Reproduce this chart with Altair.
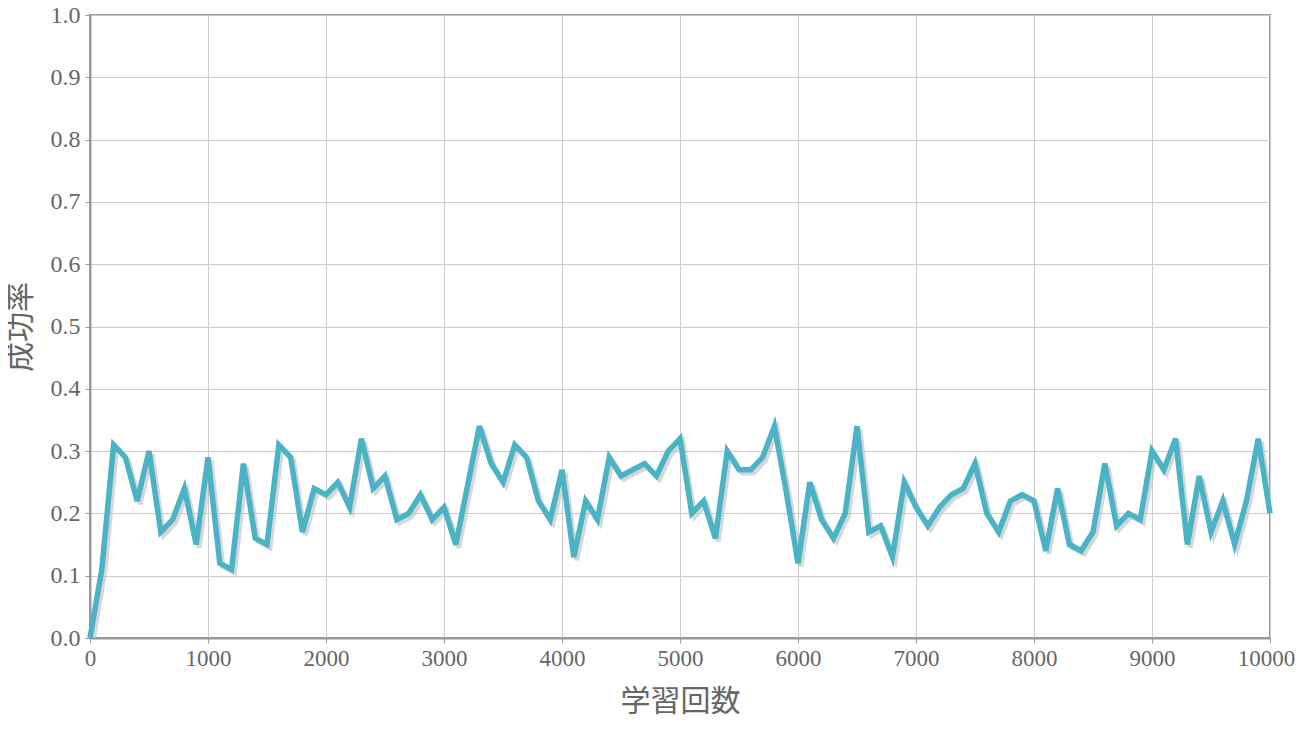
import altair as alt
import pandas as pd

steps = list(range(0, 10001, 100))
rates = [
    0.00, 0.11, 0.31, 0.29, 0.22, 0.30, 0.17, 0.19, 0.24, 0.15,
    0.29, 0.12, 0.11, 0.28, 0.16, 0.15, 0.31, 0.29, 0.17, 0.24,
    0.23, 0.25, 0.21, 0.32, 0.24, 0.26, 0.19, 0.20, 0.23, 0.19,
    0.21, 0.15, 0.245, 0.34, 0.28, 0.25, 0.31, 0.29, 0.22, 0.19,
    0.27, 0.13, 0.22, 0.19, 0.29, 0.26, 0.27, 0.28, 0.26, 0.30,
    0.32, 0.20, 0.22, 0.16, 0.30, 0.27, 0.27, 0.29, 0.34, 0.235,
    0.12, 0.25, 0.19, 0.16, 0.20, 0.34, 0.17, 0.18, 0.13, 0.25,
    0.21, 0.18, 0.21, 0.23, 0.24, 0.28, 0.20, 0.17, 0.22, 0.23,
    0.22, 0.14, 0.24, 0.15, 0.14, 0.17, 0.28, 0.18, 0.20, 0.19,
    0.30, 0.27, 0.32, 0.15, 0.26, 0.17, 0.22, 0.15, 0.22, 0.32,
    0.20,
]

df = pd.DataFrame({"step": steps, "rate": rates})

x_enc = alt.X("step:Q", scale=alt.Scale(domain=[0, 10000], nice=False),
              axis=alt.Axis(title="学習回数", values=list(range(0, 10001, 1000)),
                            format="d", labelPadding=4, titlePadding=16,
                            labelFontSize=23, labelFlush=False,
                            labelOffset={"condition": {"test": "datum.value == 10000", "value": -4},
                                         "value": 0}))
y_enc = alt.Y("rate:Q", scale=alt.Scale(domain=[0, 1], nice=False),
              axis=alt.Axis(title="成功率", values=[i / 10 for i in range(11)],
                            format=".1f", labelPadding=5, titlePadding=15,
                            labelFlush=False))

shadow = alt.Chart(df).transform_calculate(
    sx="datum.step + 25", sy="datum.rate - 0.005"
).mark_line(color="#bdbdbd", strokeWidth=5, opacity=0.6, clip=True).encode(
    x=alt.X("sx:Q", scale=alt.Scale(domain=[0, 10000], nice=False)),
    y=alt.Y("sy:Q", scale=alt.Scale(domain=[0, 1], nice=False)),
)

line = alt.Chart(df).mark_line(color="#4ab3c6", strokeWidth=5.5, strokeJoin="miter").encode(
    x=x_enc, y=y_enc
)

chart = alt.layer(shadow, line).properties(
    width=1180, height=623,
    autosize=alt.AutoSizeParams(type="none"),
    padding={"left": 82, "top": 7, "right": 25, "bottom": 85},
).configure_view(
    stroke="#999999", strokeWidth=2
).configure_axis(
    labelFont="Liberation Serif", labelFontSize=24, labelColor="#666666",
    titleFont="Noto Sans CJK JP", titleFontSize=30, titleColor="#666666",
    titleFontWeight="normal",
    gridColor="#cccccc", gridWidth=1,
    domainColor="#999999", domainWidth=2,
    tickColor="#999999", tickSize=5,
)

chart.save("out.html", embed_options={"renderer": "svg", "actions": False})
